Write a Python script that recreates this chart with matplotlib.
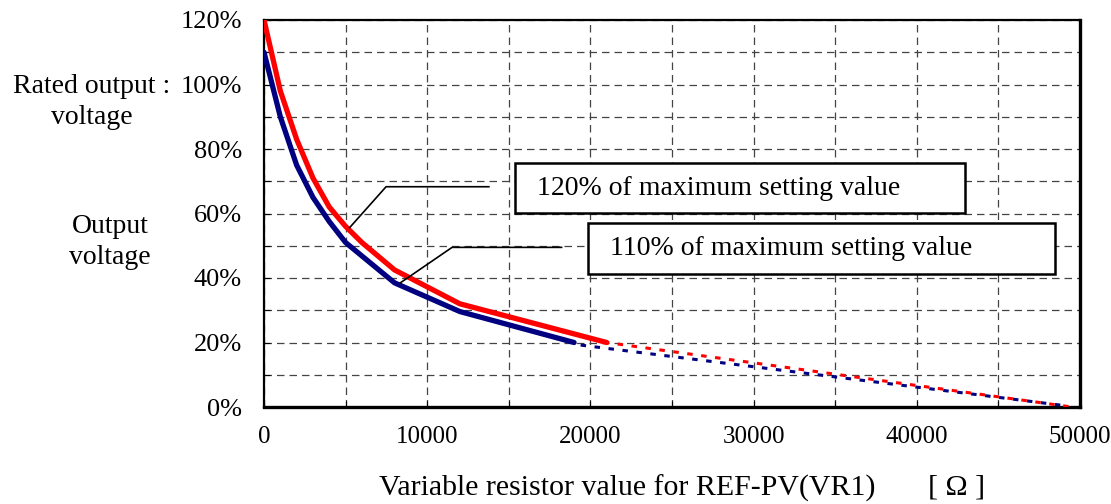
import matplotlib
matplotlib.use('Agg')
import matplotlib.pyplot as plt
from matplotlib.ticker import MultipleLocator

plt.rcParams['font.family'] = ['Liberation Serif', 'DejaVu Serif']

# ── Data ────────────────────────────────────────────────────────────────────
r120_x = [0, 1000, 2000, 3000, 4000, 5000, 6000, 8000, 12000, 21000]
r120_y = [120, 98, 83, 71, 62, 56, 51, 42.5, 32, 20]
r110_x = [0, 1000, 2000, 3000, 4000, 5000, 8000, 12000, 19000]
r110_y = [110, 90, 75, 65, 57.5, 51, 38.5, 29.6, 20]

r120_ext_x = [21000, 49500]
r120_ext_y = [20, 0]
r110_ext_x = [19400, 49100]
r110_ext_y = [19.2, 0.4]

y_ticks = [0, 20, 40, 60, 80, 100, 120]
x_ticks = [0, 10000, 20000, 30000, 40000, 50000]

label_120 = '120% of maximum setting value'
label_110 = '110% of maximum setting value'

# ── Figure ──────────────────────────────────────────────────────────────────
fig = plt.figure(figsize=(11.11, 5.04), dpi=100)
ax = fig.add_axes([264 / 1111, 97 / 504, 816 / 1111, 387 / 504])

ax.set_xlim(0, 50000)
ax.set_ylim(0, 120)

# grid
ax.xaxis.set_major_locator(MultipleLocator(10000))
ax.xaxis.set_minor_locator(MultipleLocator(5000))
ax.yaxis.set_major_locator(MultipleLocator(20))
ax.yaxis.set_minor_locator(MultipleLocator(10))
ax.grid(which='both', color='#444444', linestyle=(0, (6, 4)), linewidth=0.9)
ax.set_axisbelow(True)

ax.set_xticks(x_ticks)
ax.set_xticklabels([str(v) for v in x_ticks])
ax.set_yticks(y_ticks)
ax.set_yticklabels([f'{v}%' for v in y_ticks])
ax.tick_params(which='both', direction='in', length=4, width=0.8)
ax.tick_params(axis='x', labelsize=18, pad=14)
ax.tick_params(axis='y', labelsize=19, pad=16)

for side in ['top', 'left']:
    ax.spines[side].set_linewidth(1.6)
for side in ['right', 'bottom']:
    ax.spines[side].set_linewidth(2.4)

# curves
ax.plot(r110_x, r110_y, color='#000080', linewidth=3.8,
        solid_capstyle='round', zorder=3)
ax.plot(r120_x, r120_y, color='#ff0000', linewidth=3.8,
        solid_capstyle='round', zorder=4)
ax.plot(r110_ext_x, r110_ext_y, color='#000080', linewidth=2.2,
        linestyle=(0, (1.8, 2.8)), zorder=3)
ax.plot(r120_ext_x, r120_ext_y, color='#ff0000', linewidth=2.2,
        linestyle=(1, (1.8, 2.8)), zorder=4)

# leader lines
ax.plot([13780, 7480, 5244], [68.3, 68.3, 55.6], color='black', linewidth=1.2, zorder=5)
ax.plot([18232, 11524, 8354], [49.5, 49.5, 38.5], color='black', linewidth=1.2, zorder=5)

# label boxes
ax.add_patch(plt.Rectangle((15380, 60.2), 42950 - 15380, 75.7 - 60.2,
                           facecolor='white', edgecolor='black', linewidth=1.8, zorder=6))
ax.add_patch(plt.Rectangle((19850, 41.2), 48470 - 19850, 57.1 - 41.2,
                           facecolor='white', edgecolor='black', linewidth=1.8, zorder=6))
ax.text(16730, 67.9, label_120, fontsize=20, ha='left', va='center', zorder=7)
ax.text(21200, 49.0, label_110, fontsize=20, ha='left', va='center', zorder=7)

# axis titles
fig.text(92 / 1111, 1 - 102 / 504, 'Rated output :\nvoltage', fontsize=20,
         ha='center', va='center', linespacing=1.3)
fig.text(110 / 1111, 1 - 242 / 504, 'Output\nvoltage', fontsize=20,
         ha='center', va='center', linespacing=1.35)
fig.text(682 / 1111, 1 - 488 / 504, 'Variable resistor value for REF-PV(VR1)       [ \u03a9 ]',
         fontsize=21.5, ha='center', va='center')

fig.savefig('out.png', dpi=100)
